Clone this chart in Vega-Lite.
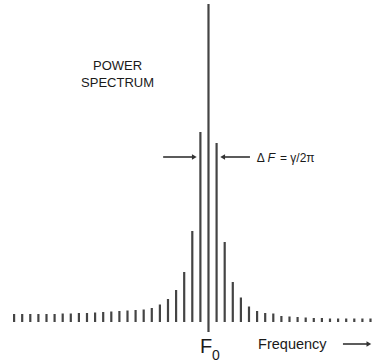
{
  "$schema": "https://vega.github.io/schema/vega-lite/v6.json",
  "width": 376,
  "height": 364,
  "autosize": "none",
  "padding": 0,
  "background": "white",
  "config": {"view": {"stroke": null}},
  "datasets": {
    "spikes": [
      {"k": -24, "p": 8, "lo": 0}, {"k": -23, "p": 8, "lo": 0}, {"k": -22, "p": 8, "lo": 0},
      {"k": -21, "p": 8, "lo": 0}, {"k": -20, "p": 8, "lo": 0}, {"k": -19, "p": 8, "lo": 0},
      {"k": -18, "p": 8.5, "lo": 0}, {"k": -17, "p": 8.5, "lo": 0}, {"k": -16, "p": 9, "lo": 0},
      {"k": -15, "p": 9, "lo": 0}, {"k": -14, "p": 9.5, "lo": 0}, {"k": -13, "p": 10, "lo": 0},
      {"k": -12, "p": 10.5, "lo": 0}, {"k": -11, "p": 11, "lo": 0}, {"k": -10, "p": 11.5, "lo": 0},
      {"k": -9, "p": 12, "lo": 0}, {"k": -8, "p": 12.5, "lo": 0}, {"k": -7, "p": 14, "lo": 0},
      {"k": -6, "p": 17.5, "lo": 0}, {"k": -5, "p": 23, "lo": 0}, {"k": -4, "p": 32, "lo": 0},
      {"k": -3, "p": 50, "lo": 0}, {"k": -2, "p": 91, "lo": 0}, {"k": -1, "p": 190, "lo": 0},
      {"k": 0, "p": 318, "lo": -10},
      {"k": 1, "p": 179, "lo": 0}, {"k": 2, "p": 80, "lo": 0}, {"k": 3, "p": 40, "lo": 0},
      {"k": 4, "p": 24.5, "lo": 0}, {"k": 5, "p": 15.5, "lo": 0}, {"k": 6, "p": 11, "lo": 0},
      {"k": 7, "p": 9, "lo": 0}, {"k": 8, "p": 8.5, "lo": 0}, {"k": 9, "p": 6, "lo": 0},
      {"k": 10, "p": 5.5, "lo": 0}, {"k": 11, "p": 5, "lo": 0}, {"k": 12, "p": 4.5, "lo": 0},
      {"k": 13, "p": 4, "lo": 0}, {"k": 14, "p": 4, "lo": 0}, {"k": 15, "p": 3.5, "lo": 0},
      {"k": 16, "p": 3.5, "lo": 0}, {"k": 17, "p": 3.5, "lo": 0}, {"k": 18, "p": 3.5, "lo": 0},
      {"k": 19, "p": 3.5, "lo": 0}, {"k": 20, "p": 3.5, "lo": 0}
    ],
    "arrows": [
      {"x1": -5.6, "x2": -1.8, "y": 165},
      {"x1": 1.9, "x2": 5.12, "y": 165},
      {"x1": 16.6, "x2": 19.6, "y": -22}
    ],
    "headsRight": [
      {"k": -1.75, "y": 165},
      {"k": 19.8, "y": -22}
    ],
    "headsLeft": [
      {"k": 1.75, "y": 165}
    ]
  },
  "encoding": {},
  "layer": [
    {
      "data": {"name": "spikes"},
      "mark": {"type": "rule", "color": "#444", "strokeWidth": 2.2},
      "encoding": {
        "x": {"field": "k", "type": "quantitative", "scale": {"domain": [-25.74, 20.68], "nice": false, "zero": false}, "axis": null},
        "y": {"field": "p", "type": "quantitative", "scale": {"domain": [-42, 322], "nice": false, "zero": false}, "axis": null},
        "y2": {"field": "lo"}
      }
    },
    {
      "data": {"name": "arrows"},
      "mark": {"type": "rule", "color": "#333", "strokeWidth": 1.6},
      "encoding": {
        "x": {"field": "x1", "type": "quantitative"},
        "x2": {"field": "x2"},
        "y": {"field": "y", "type": "quantitative"}
      }
    },
    {
      "data": {"name": "headsRight"},
      "mark": {"type": "point", "shape": "triangle-right", "filled": true, "color": "#333", "size": 30, "opacity": 1},
      "encoding": {
        "x": {"field": "k", "type": "quantitative"},
        "y": {"field": "y", "type": "quantitative"}
      }
    },
    {
      "data": {"name": "headsLeft"},
      "mark": {"type": "point", "shape": "triangle-left", "filled": true, "color": "#333", "size": 30, "opacity": 1},
      "encoding": {
        "x": {"field": "k", "type": "quantitative"},
        "y": {"field": "y", "type": "quantitative"}
      }
    },
    {
      "data": {"values": [{"k": -11.23, "y": 252, "t": "POWER\nSPECTRUM"}]},
      "mark": {"type": "text", "font": "Liberation Sans", "fontSize": 13, "align": "center", "baseline": "alphabetic", "lineBreak": "\n", "lineHeight": 16.5, "color": "#1a1a1a"},
      "encoding": {
        "x": {"field": "k", "type": "quantitative"},
        "y": {"field": "y", "type": "quantitative"},
        "text": {"field": "t"}
      }
    },
    {
      "data": {"values": [
        {"k": 5.95, "y": 160, "t": "Δ"},
        {"k": 8.83, "y": 160, "t": "= γ/2π"}
      ]},
      "mark": {"type": "text", "font": "Liberation Sans", "fontSize": 12, "align": "left", "baseline": "alphabetic", "color": "#1a1a1a"},
      "encoding": {
        "x": {"field": "k", "type": "quantitative"},
        "y": {"field": "y", "type": "quantitative"},
        "text": {"field": "t"}
      }
    },
    {
      "data": {"values": [{"k": 6.12, "y": -26.5, "t": "Frequency"}]},
      "mark": {"type": "text", "font": "Liberation Sans", "fontSize": 14.5, "align": "left", "baseline": "alphabetic", "color": "#1a1a1a"},
      "encoding": {
        "x": {"field": "k", "type": "quantitative"},
        "y": {"field": "y", "type": "quantitative"},
        "text": {"field": "t"}
      }
    },
    {
      "data": {"values": [{"k": 7.28, "y": 160, "t": "F"}]},
      "mark": {"type": "text", "font": "Liberation Sans", "fontSize": 12.5, "fontStyle": "italic", "align": "left", "baseline": "alphabetic", "color": "#1a1a1a"},
      "encoding": {
        "x": {"field": "k", "type": "quantitative"},
        "y": {"field": "y", "type": "quantitative"},
        "text": {"field": "t"}
      }
    },
    {
      "data": {"values": [{"k": -1.05, "y": -31.3, "t": "F"}]},
      "mark": {"type": "text", "font": "Liberation Sans", "fontSize": 20, "align": "left", "baseline": "alphabetic", "color": "#1a1a1a"},
      "encoding": {
        "x": {"field": "k", "type": "quantitative"},
        "y": {"field": "y", "type": "quantitative"},
        "text": {"field": "t"}
      }
    },
    {
      "data": {"values": [{"k": 0.43, "y": -38, "t": "0"}]},
      "mark": {"type": "text", "font": "Liberation Sans", "fontSize": 14, "align": "left", "baseline": "alphabetic", "color": "#1a1a1a"},
      "encoding": {
        "x": {"field": "k", "type": "quantitative"},
        "y": {"field": "y", "type": "quantitative"},
        "text": {"field": "t"}
      }
    }
  ]
}
